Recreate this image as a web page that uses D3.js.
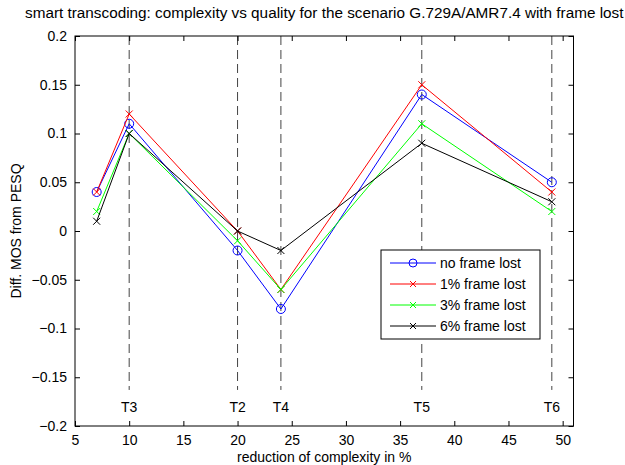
<!DOCTYPE html>
<html>
<head>
<meta charset="utf-8">
<script src="https://cdn.jsdelivr.net/npm/d3@7"></script>
<style>
body { margin: 0; background: #fff; }
text { font-family: "Liberation Sans", Arial, sans-serif; }
</style>
</head>
<body>
<div id="chart"></div>
<script>
// data
var reduction = [7, 10, 20, 24, 37, 49];
var noLost = [0.04, 0.11, -0.02, -0.08, 0.14, 0.05];
var lost1 = [0.04, 0.12, 0, -0.06, 0.15, 0.04];
var lost3 = [0.02, 0.10, -0.01, -0.06, 0.11, 0.02];
var lost6 = [0.01, 0.10, 0, -0.02, 0.09, 0.03];
var seriesNames = ["no frame lost", "1% frame lost", "3% frame lost", "6% frame lost"];
var seriesColors = ["#0000ff", "#ff0000", "#00ff00", "#000000"];
var seriesMarkers = ["o", "x", "x", "x"];
var markerX = [10, 20, 24, 37, 49];
var markerLabels = ["T3", "T2", "T4", "T5", "T6"];
var xTicks = [5, 10, 15, 20, 25, 30, 35, 40, 45, 50];
var yTicks = [-0.2, -0.15, -0.1, -0.05, 0, 0.05, 0.1, 0.15, 0.2];

var width = 625, height = 465;
var pLeft = 75, pRight = 573.5, pTop = 36, pBottom = 426;
var fs = "14px";

var svg = d3.select('#chart').append('svg')
    .attr('width', width)
    .attr('height', height);

var x = d3.scaleLinear().domain([5, 51]).range([pLeft, pRight]);
var y = d3.scaleLinear().domain([-0.2, 0.2]).range([pBottom, pTop]);

var fmt = function (d) {
    var s = String(+d.toFixed(2));
    return s.replace("-", "\u2212");
};

// vertical dashed markers
var vg = svg.append("g");
markerX.forEach(function (v, i) {
    vg.append("line")
        .attr("x1", x(v)).attr("x2", x(v))
        .attr("y1", y(0.2)).attr("y2", y(-0.163))
        .attr("stroke", "#444")
        .attr("stroke-width", 1)
        .attr("stroke-dasharray", "9,5");
    vg.append("text")
        .attr("x", x(v)).attr("y", y(-0.181) + 5)
        .attr("text-anchor", "middle")
        .style("font-size", fs)
        .text(markerLabels[i]);
});

// axes box with inward ticks
svg.append("rect")
    .attr("x", pLeft).attr("y", pTop)
    .attr("width", pRight - pLeft).attr("height", pBottom - pTop)
    .attr("fill", "none").attr("stroke", "#000").attr("stroke-width", 1);

var xAxis = d3.axisBottom(x).tickValues(xTicks).tickSizeInner(-5).tickSizeOuter(0).tickPadding(9);
var gx = svg.append("g").attr("transform", "translate(0," + pBottom + ")").call(xAxis);
var xAxisTop = d3.axisTop(x).tickValues(xTicks).tickSizeInner(-5).tickSizeOuter(0).tickFormat("");
var gxt = svg.append("g").attr("transform", "translate(0," + pTop + ")").call(xAxisTop);
var yAxis = d3.axisLeft(y).tickValues(yTicks).tickSizeInner(-5).tickSizeOuter(0).tickPadding(8).tickFormat(fmt);
var gy = svg.append("g").attr("transform", "translate(" + pLeft + ",0)").call(yAxis);
var yAxisR = d3.axisRight(y).tickValues(yTicks).tickSizeInner(-5).tickSizeOuter(0).tickFormat("");
var gyr = svg.append("g").attr("transform", "translate(" + pRight + ",0)").call(yAxisR);

[gx, gxt, gy, gyr].forEach(function (g) {
    g.select(".domain").remove();
    g.attr("font-family", null).attr("font-size", null);
    g.selectAll("text").style("font-size", fs).attr("fill", "#000");
    g.selectAll("line").attr("stroke", "#000");
});

// series
var allSeries = [noLost, lost1, lost3, lost6];
var line = d3.line()
    .x(function (d, i) { return x(reduction[i]); })
    .y(function (d) { return y(d); });

function drawMarker(g, type, cx, cy, color, r) {
    if (type === "o") {
        g.append("circle")
            .attr("cx", cx).attr("cy", cy).attr("r", r + 1)
            .attr("fill", "none").attr("stroke", color).attr("stroke-width", 1);
    } else {
        g.append("path")
            .attr("d", "M" + (cx - r) + "," + (cy - r) + "L" + (cx + r) + "," + (cy + r) +
                "M" + (cx - r) + "," + (cy + r) + "L" + (cx + r) + "," + (cy - r))
            .attr("stroke", color).attr("stroke-width", 1);
    }
}

var sg = svg.append("g");
allSeries.forEach(function (vals, k) {
    sg.append("path")
        .datum(vals)
        .attr("d", line)
        .attr("fill", "none")
        .attr("stroke", seriesColors[k])
        .attr("stroke-width", 1);
    vals.forEach(function (v, i) {
        drawMarker(sg, seriesMarkers[k], x(reduction[i]), y(v), seriesColors[k], 3.5);
    });
});

// legend
var lg = svg.append("g");
var lx = 381, ly = 250, lw = 159, lh = 89;
lg.append("rect")
    .attr("x", lx).attr("y", ly).attr("width", lw).attr("height", lh)
    .attr("fill", "#fff").attr("stroke", "#000").attr("stroke-width", 1);
seriesNames.forEach(function (name, k) {
    var ry = ly + 13 + k * 21;
    lg.append("line")
        .attr("x1", lx + 9).attr("x2", lx + 55)
        .attr("y1", ry).attr("y2", ry)
        .attr("stroke", seriesColors[k]).attr("stroke-width", 1);
    drawMarker(lg, seriesMarkers[k], lx + 32, ry, seriesColors[k], 3);
    lg.append("text")
        .attr("x", lx + 59).attr("y", ry + 5)
        .style("font-size", fs)
        .text(name);
});

// titles
svg.append("text")
    .attr("x", (pLeft + pRight) / 2).attr("y", 18)
    .attr("text-anchor", "middle")
    .style("font-size", "15.3px")
    .text("smart transcoding: complexity vs quality for the scenario G.729A/AMR7.4 with frame lost");

svg.append("text")
    .attr("x", (pLeft + pRight) / 2).attr("y", 462)
    .attr("text-anchor", "middle")
    .style("font-size", fs)
    .text("reduction of complexity in %");

svg.append("text")
    .attr("transform", "translate(21," + ((pTop + pBottom) / 2) + ") rotate(-90)")
    .attr("text-anchor", "middle")
    .style("font-size", fs)
    .text("Diff. MOS from PESQ");
</script>
</body>
</html>
